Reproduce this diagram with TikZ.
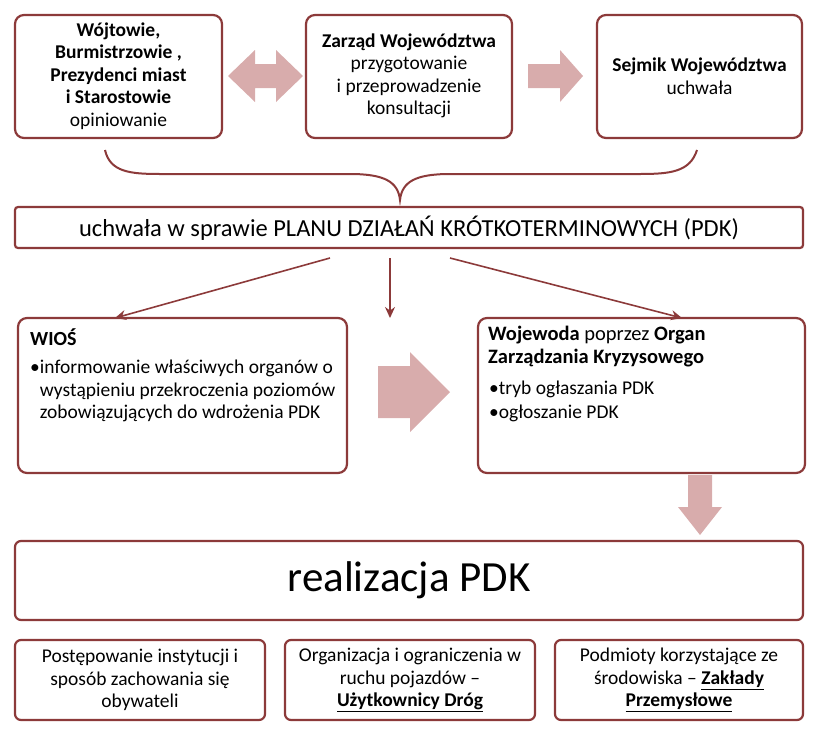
\documentclass[tikz,border=0pt]{standalone}
\usepackage{fontspec}
\setmainfont{Carlito}
\usetikzlibrary{shapes.arrows,arrows.meta}
\definecolor{bord}{RGB}{140,58,58}
\definecolor{pinka}{RGB}{216,172,172}
\begin{document}
\begin{tikzpicture}[x=1pt,y=-1pt,
  box/.style={draw=bord,line width=2.2pt,rounded corners=9pt,fill=white},
  txt/.style={align=center,font=\fontsize{19.5}{22.5}\selectfont,inner sep=0},
  bar/.style={draw=bord,line width=2.2pt,rounded corners=3pt},
  conn/.style={draw=bord,line width=1.6pt,-{Stealth[length=11pt,width=10pt]}},
  fat/.style={fill=pinka,draw=none}]
\useasboundingbox (0,0) rectangle (821,739);
% top boxes
\draw[box] (15,15) rectangle (222,138);
\node[txt] (b1) at (118.5,76) {\textbf{Wójtowie,}\\\textbf{Burmistrzowie ,}\\\textbf{Prezydenci miast}\\\textbf{i Starostowie}\\opiniowanie};
\draw[box] (306,15) rectangle (512,138);
\node[txt] (b2) at (409,76) {\textbf{Zarząd Województwa}\\przygotowanie\\i przeprowadzenie\\konsultacji};
\draw[box] (597,15) rectangle (802,138);
\node[txt] (b3) at (699.5,76) {\textbf{Sejmik Województwa}\\uchwała};
% pink arrows top
\fill[fat] (228,76) -- (255,50) -- (255,64) -- (276,64) -- (276,50) -- (303,76) -- (276,102) -- (276,88) -- (255,88) -- (255,102) -- cycle;
\fill[fat] (528,64) -- (560,64) -- (560,50) -- (583,76) -- (560,102) -- (560,88) -- (528,88) -- cycle;
% brace
\draw[bord,line width=2pt] (105,150) .. controls (110,172) and (130,174) .. (160,174) -- (350,174) .. controls (385,174) and (398,182) .. (400,200)
  .. controls (402,182) and (415,174) .. (450,174) -- (640,174) .. controls (670,174) and (690,172) .. (697,150);
% banner
\draw[bar] (15,207) rectangle (803,248);
\node[txt,font=\fontsize{24.5}{27}\selectfont] (ban) at (409,228) {uchwała w sprawie PLANU DZIAŁAŃ KRÓTKOTERMINOWYCH (PDK)};
\coordinate (s1) at (330,258);
\coordinate (s2) at (390,258);
\coordinate (s3) at (450,258);
% middle boxes
\draw[box] (18,318) rectangle (347,473);
\coordinate (t1) at (115,318);
\coordinate (t2) at (390,318);
\coordinate (t3) at (682,318);
\node[txt,align=left,anchor=north west,font=\fontsize{20}{22}\selectfont] (w1) at (30,328) {\textbf{WIOŚ}};
\node[txt,align=left,anchor=north west,font=\fontsize{19.5}{22.5}\selectfont] (w2) at (30,360) {•informowanie właściwych organów o\\\phantom{•}wystąpieniu przekroczenia poziomów\\\phantom{•}zobowiązujących do wdrożenia PDK};
\draw[box] (478,318) rectangle (805,473);
\node[txt,align=left,anchor=north west,font=\fontsize{20.5}{23}\selectfont] (v1) at (488,326) {\textbf{Wojewoda} poprzez \textbf{Organ}\\\textbf{Zarządzania Kryzysowego}};
\node[txt,align=left,anchor=north west,font=\fontsize{19.5}{24}\selectfont] (v2) at (489,381) {•tryb ogłaszania PDK\\•ogłoszanie PDK};
\draw[conn] (s1) -- (t1);
\draw[conn] (s2) -- (t2);
\draw[conn] (s3) -- (t3);
\fill[fat] (378,366) -- (410,366) -- (410,352) -- (450,392) -- (410,432) -- (410,418) -- (378,418) -- cycle;
\fill[fat] (688,475) -- (712,475) -- (712,507) -- (722,507) -- (700,535) -- (678,507) -- (688,507) -- cycle;
% realizacja
\draw[box,rounded corners=6pt] (15,541) rectangle (803,620);
\node[txt,font=\fontsize{43}{46}\selectfont] (r) at (409,580) {realizacja PDK};
% bottom
\draw[box,rounded corners=6pt] (15,640) rectangle (265,720);
\node[txt] (p1) at (140,680) {Postępowanie instytucji i\\sposób zachowania się\\obywateli};
\draw[box,rounded corners=6pt] (285,640) rectangle (535,720);
\node[txt] (p2) at (410,680) {Organizacja i ograniczenia w\\ruchu pojazdów –\\\textbf{\underline{Użytkownicy Dróg}}};
\draw[box,rounded corners=6pt] (555,640) rectangle (803,720);
\node[txt] (p3) at (679,680) {Podmioty korzystające ze\\środowiska – \textbf{\underline{Zakłady}}\\\textbf{\underline{Przemysłowe}}};
\end{tikzpicture}
\end{document}
